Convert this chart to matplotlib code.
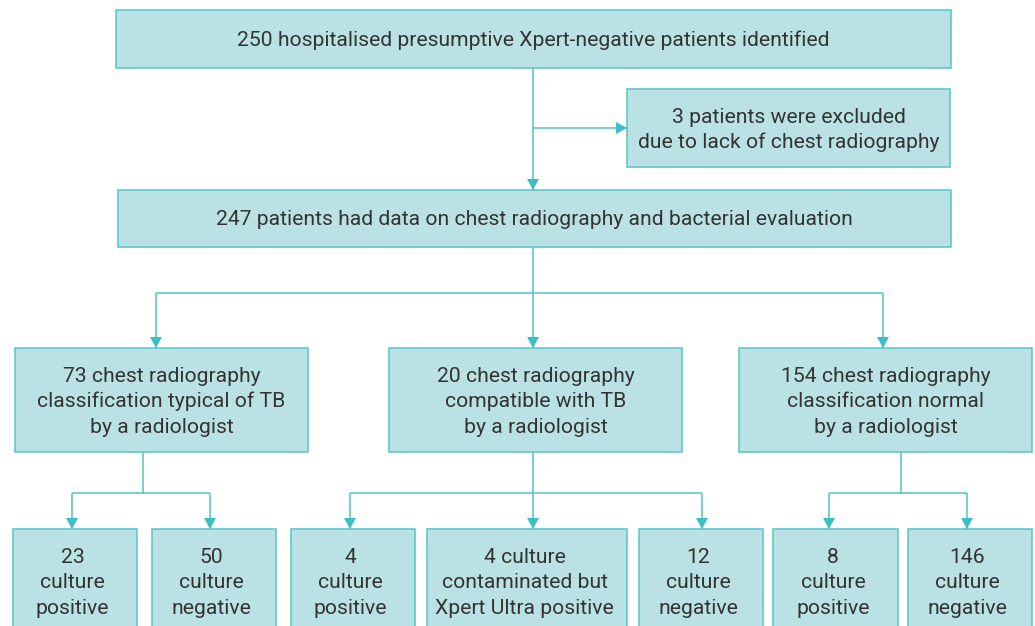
import matplotlib
matplotlib.use("Agg")
import matplotlib.pyplot as plt
from matplotlib.patches import Rectangle, Polygon

# ---- data (text content) ----
top_text = ["250 hospitalised presumptive Xpert-negative patients identified"]
excluded_text = ["3 patients were excluded", "due to lack of chest radiography"]
eligible_text = ["247 patients had data on chest radiography and bacterial evaluation"]
cxr_groups = [
    ["73 chest radiography", "classification typical of TB", "by a radiologist"],
    ["20 chest radiography", "compatible with TB", "by a radiologist"],
    ["154 chest radiography", "classification normal", "by a radiologist"],
]
outcome_counts = ["23", "50", "4", "4 culture", "12", "8", "146"]
outcome_labels = [
    ["culture", "positive"],
    ["culture", "negative"],
    ["culture", "positive"],
    ["contaminated but", "Xpert Ultra positive"],
    ["culture", "negative"],
    ["culture", "positive"],
    ["culture", "negative"],
]
outcome_parent = [0, 0, 1, 1, 1, 2, 2]

# ---- style ----
FILL = "#bae2e4"
EDGE = "#55c5ca"
LINE = "#52c4c9"
HEAD = "#3cbfc4"
TXT = "#333333"
W, H = 1035, 626

fig = plt.figure(figsize=(W / 100, H / 100), dpi=100)
ax = fig.add_axes([0, 0, 1, 1])
ax.set_xlim(0, W)
ax.set_ylim(H, 0)
ax.axis("off")

FS = 15.2
FAMILY = ["Roboto", "DejaVu Sans"]
LS = 25.5
BASE_OFF = 7.3


def box(x0, y0, x1, y1):
    ax.add_patch(Rectangle((x0, y0), x1 - x0, y1 - y0, facecolor=FILL,
                           edgecolor=EDGE, linewidth=1.1, zorder=2))


def lines_text(cx, cy, lines):
    n = len(lines)
    for i, s in enumerate(lines):
        ax.text(cx, cy + BASE_OFF + (i - (n - 1) / 2) * LS, s, ha="center",
                va="baseline", fontsize=FS, color=TXT, family=FAMILY, zorder=4)


def seg(xs, ys):
    ax.plot(xs, ys, color=LINE, linewidth=1.1, solid_capstyle="butt", zorder=1)


def head_down(x, y):
    ax.add_patch(Polygon([(x - 6, y - 11), (x + 6, y - 11), (x, y)],
                         closed=True, facecolor=HEAD, edgecolor="none", zorder=3))


def head_right(x, y):
    ax.add_patch(Polygon([(x - 11, y - 6), (x - 11, y + 6), (x, y)],
                         closed=True, facecolor=HEAD, edgecolor="none", zorder=3))


# level 1
box(116, 10, 951, 68)
lines_text(533.5, 38.5, top_text)
# excluded
box(627, 89, 950, 167)
lines_text(788.5, 128, excluded_text)
# level 2
box(118, 190, 951, 247)
lines_text(534.5, 218, eligible_text)

seg([533, 533], [68, 190])
head_down(533, 190)
seg([533, 627], [128, 128])
head_right(627, 128)

# level 3
mid_boxes = [(15, 308), (389, 682), (739, 1032)]
mid_arrows = [156, 533, 883]
seg([533, 533], [247, 293])
seg([mid_arrows[0], mid_arrows[-1]], [293, 293])
for (x0, x1), ax_x, txt in zip(mid_boxes, mid_arrows, cxr_groups):
    seg([ax_x, ax_x], [293, 348])
    head_down(ax_x, 348)
    box(x0, 348, x1, 452)
    lines_text((x0 + x1) / 2, 400, txt)

# level 4
bot_boxes = [(13, 137), (152, 276), (291, 415), (427, 627), (639, 763), (773, 898), (908, 1032)]
bot_arrows = [72, 210, 350, 533, 702, 829, 967]
stems = [143, 533, 901]
bar_y = 493
for g in range(3):
    cs = [bot_arrows[i] for i, p in enumerate(outcome_parent) if p == g]
    seg([stems[g], stems[g]], [452, bar_y])
    seg([min(cs), max(cs)], [bar_y, bar_y])
    for c in cs:
        seg([c, c], [bar_y, 529])
        head_down(c, 529)

for i, (x0, x1) in enumerate(bot_boxes):
    box(x0, 529, x1, 633)
    lines_text((x0 + x1) / 2 - 2.5, 581, [outcome_counts[i]] + outcome_labels[i])

fig.savefig("out.png", dpi=100)
